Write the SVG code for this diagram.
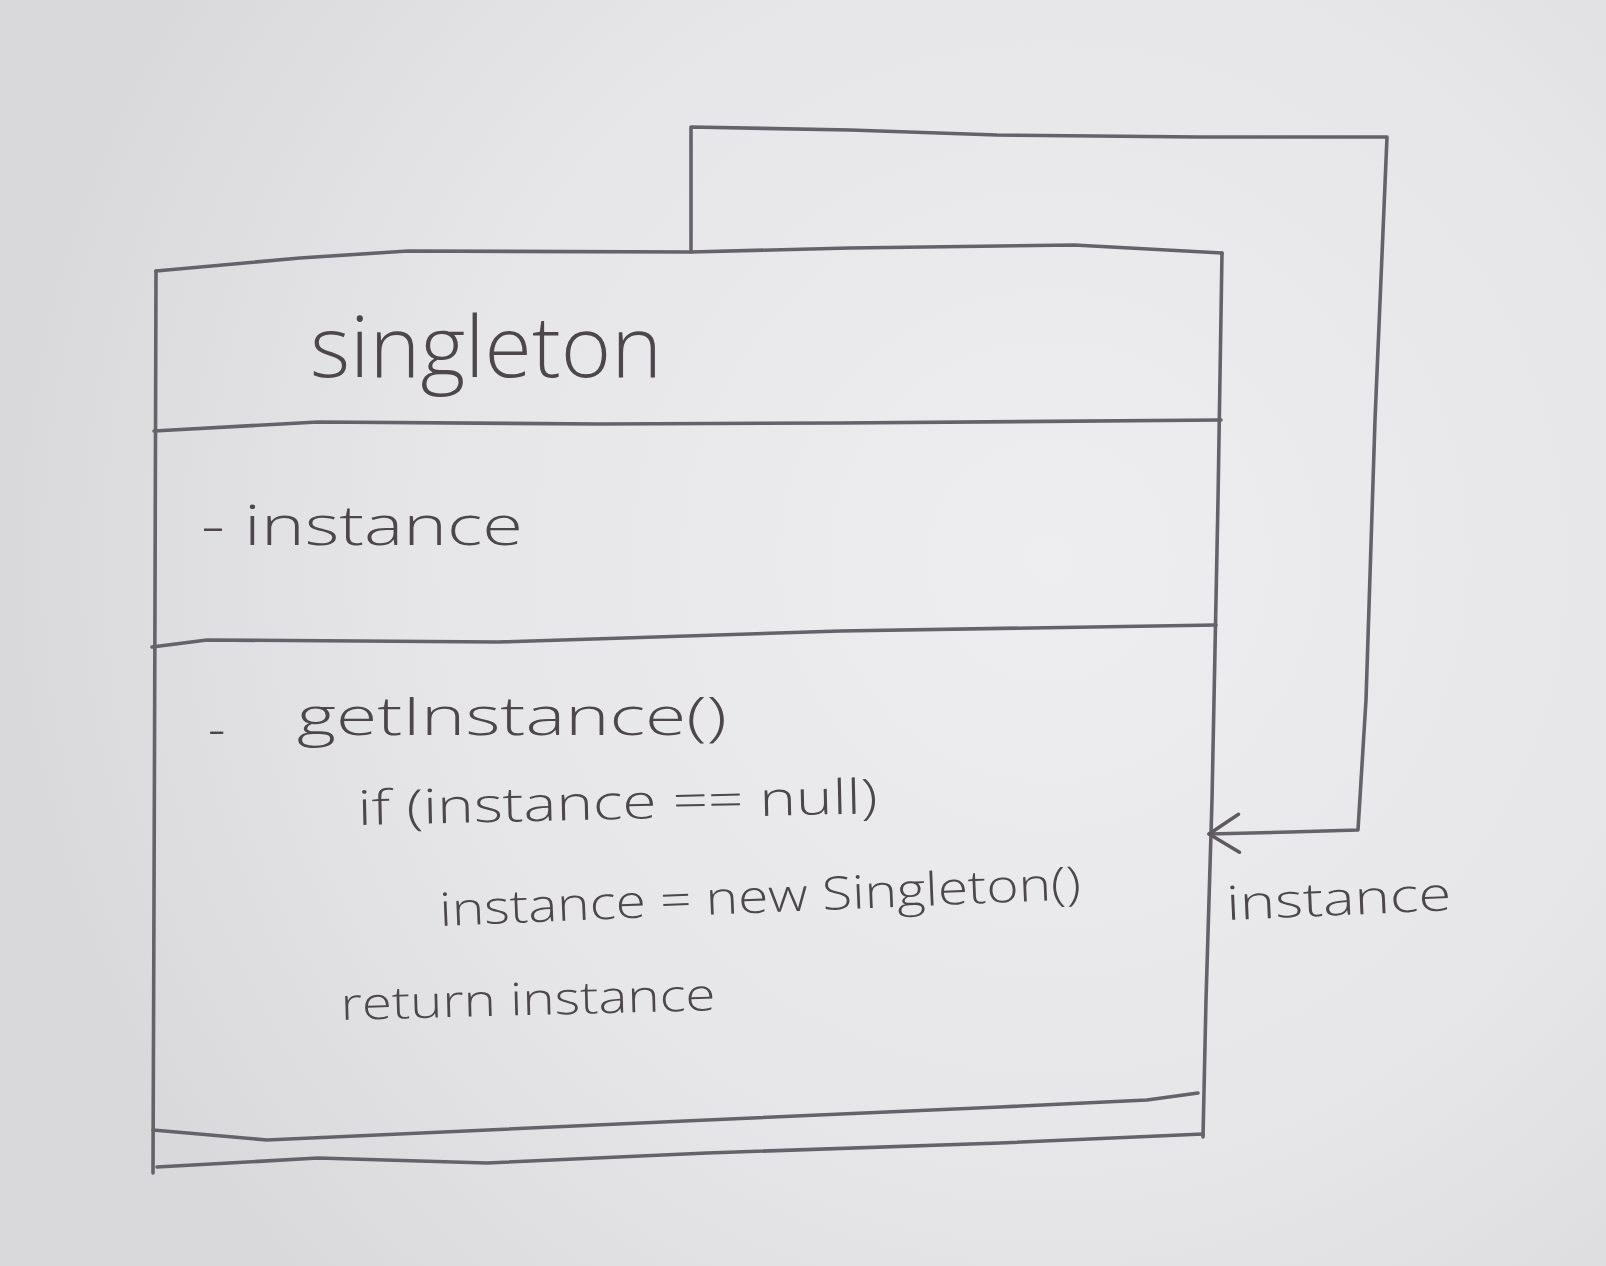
<svg xmlns="http://www.w3.org/2000/svg" width="1606" height="1266" viewBox="0 0 1606 1266">
  <defs>
    <radialGradient id="paper" cx="1050" cy="560" r="1050" gradientUnits="userSpaceOnUse">
      <stop offset="0" stop-color="#eeeef0"/>
      <stop offset="0.6" stop-color="#e6e6e8"/>
      <stop offset="1" stop-color="#d9d9dc"/>
    </radialGradient>
    <!-- open arrowhead, tip at the end of the line -->
    <marker id="open-arrow" viewBox="0 0 40 44" refX="36" refY="22" markerWidth="40" markerHeight="44" markerUnits="userSpaceOnUse" orient="auto">
      <path d="M6,3 L36,22 L6,41" fill="none" stroke="#5e5a5d" stroke-width="3.5" stroke-linecap="round" stroke-linejoin="round"/>
    </marker>
    <style>
      .ink { fill: none; stroke: #66626a; stroke-width: 3.6; stroke-linecap: round; stroke-linejoin: round; }
      .hand { font-family: "Open Sans", "Noto Sans", "DejaVu Sans", sans-serif; font-weight: 300; fill: #4b474b; }
    </style>
  </defs>

  <!-- sheet of paper -->
  <rect x="0" y="0" width="1606" height="1266" fill="url(#paper)"/>

  <!-- class box: Singleton -->
  <g id="singleton-class">
    <!-- outline -->
    <path class="ink" d="M156,271 L300,258 L408,251 L691,252 L850,248 L1074,245 L1222,253"/>
    <path class="ink" d="M156,271 L155,600 L154,900 L153,1173"/>
    <path class="ink" d="M1222,253 L1218,500 L1212,800 L1206,1000 L1203,1137"/>
    <!-- compartment dividers -->
    <path class="ink" d="M154,431 L318,422 L600,424 L840,423 L1221,420"/>
    <path class="ink" d="M152,647 L207,640 L498,642 L840,631 L1216,625"/>
    <path class="ink" d="M153,1130 L267,1140 L707,1120 L1000,1107 L1147,1100 L1198,1093"/>
    <path class="ink" d="M157,1167 L318,1158 L487,1163 L707,1153 L1000,1143 L1203,1134"/>

    <!-- name -->
    <text class="hand" x="310" y="377" font-size="84" textLength="352" lengthAdjust="spacingAndGlyphs">singleton</text>
    <!-- attribute -->
    <text class="hand" x="201" y="545" font-size="56" textLength="322" lengthAdjust="spacingAndGlyphs">- instance</text>
    <!-- operation -->
    <text class="hand" y="735" font-size="54"><tspan x="208" dy="12">-</tspan><tspan x="297" dy="-12" textLength="430" lengthAdjust="spacingAndGlyphs">getInstance()</tspan></text>
    <text class="hand" x="358" y="825" font-size="48" textLength="520" lengthAdjust="spacingAndGlyphs" transform="rotate(-1.3 358 825)">if (instance == null)</text>
    <text class="hand" x="440" y="926" font-size="46" textLength="642" lengthAdjust="spacingAndGlyphs" transform="rotate(-2.4 440 926)">instance = new Singleton()</text>
    <text class="hand" x="341" y="1020" font-size="45" textLength="375" lengthAdjust="spacingAndGlyphs" transform="rotate(-1.5 341 1020)">return instance</text>
  </g>

  <!-- self association -->
  <g id="connectors">
    <path class="ink" d="M691,252 L691,127 L850,130 L997,135 L1200,137 L1387,137 L1375,420 L1366,700 L1358,830 L1290,832 L1209,834" marker-end="url(#open-arrow)"/>
    <text class="hand" x="1227" y="920" font-size="47" textLength="225" lengthAdjust="spacingAndGlyphs" transform="rotate(-2.5 1227 920)">instance</text>
  </g>
</svg>
